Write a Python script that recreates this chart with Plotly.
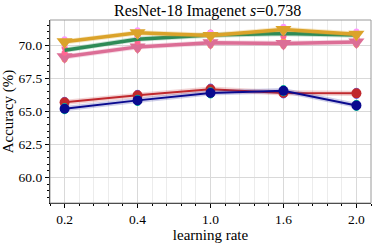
import plotly.graph_objects as go

lr_labels = ["0.2", "0.4", "1.0", "1.6", "2.0"]
gold = [70.25, 70.93, 70.73, 71.19, 70.83]
green = [69.62, 70.45, 70.76, 70.88, 70.76]
pink = [69.12, 69.87, 70.18, 70.13, 70.23]
red = [65.68, 66.21, 66.67, 66.39, 66.36]
blue = [65.20, 65.83, 66.39, 66.56, 65.45]
band = [0.2, 0.2, 0.2, 0.2, 0.2]

x = list(range(len(lr_labels)))
FONT = "Liberation Serif, Times New Roman, serif"

series = [
    (red, "#c0282d", "rgba(192,40,45,0.2)", "circle", 10, 2),
    (blue, "#0a0a8f", "rgba(10,10,143,0.2)", "circle", 10, 2),
    (pink, "#dc6e96", "rgba(220,110,150,0.25)", "triangle-down", 14, 3.5),
    (green, "#2e8b57", "rgba(46,139,87,0.25)", "triangle-down", 0, 3.5),
    (gold, "#dba32a", "rgba(219,163,42,0.25)", "triangle-down", 14, 3.5),
]

fig = go.Figure()
for vals, col, fill, sym, ms, lw in series:
    up = [v + b for v, b in zip(vals, band)]
    lo = [v - b for v, b in zip(vals, band)]
    fig.add_trace(go.Scatter(x=x + x[::-1], y=up + lo[::-1], fill="toself",
                             fillcolor=fill, line=dict(width=0), hoverinfo="skip",
                             showlegend=False))
    fig.add_trace(go.Scatter(x=x, y=vals, mode="lines+markers" if ms else "lines",
                             line=dict(color=col, width=lw),
                             marker=dict(symbol=sym, size=ms, color=col),
                             showlegend=False))

fig.add_shape(type="rect", xref="paper", yref="paper", x0=0, y0=0, x1=1, y1=1,
              line=dict(color="#9a9a9a", width=1), layer="above")

fig.update_layout(
    width=374, height=243,
    margin=dict(l=50, r=3, t=20, b=40),
    paper_bgcolor="white", plot_bgcolor="white",
    font=dict(family=FONT, color="black", size=13),
    title=dict(text="ResNet-18 Imagenet <i>s</i>=0.738", x=0.555, xanchor="center",
               y=0.98, yanchor="top", font=dict(family=FONT, size=16)),
)
fig.update_xaxes(
    range=[-0.2, 4.2], tickmode="array", tickvals=x, ticktext=lr_labels,
    showgrid=True, gridcolor="#d9d9d9", gridwidth=1,
    minor=dict(dtick=0.2, tick0=0, showgrid=True, gridcolor="#ececec",
               ticks="outside", ticklen=2, tickcolor="black"),
    ticks="outside", ticklen=4, tickcolor="black",
    showline=True, linecolor="black", linewidth=1.2, zeroline=False,
    title=dict(text="learning rate", font=dict(family=FONT, size=15), standoff=3),
    tickfont=dict(family=FONT, size=13.5),
)
fig.update_yaxes(
    range=[58.08, 71.9], tickmode="array", tickvals=[60, 62.5, 65, 67.5, 70],
    ticktext=["60.0", "62.5", "65.0", "67.5", "70.0"],
    showgrid=True, gridcolor="#d9d9d9", gridwidth=1,
    minor=dict(dtick=0.5, tick0=0, showgrid=False,
               ticks="outside", ticklen=2, tickcolor="black"),
    ticks="outside", ticklen=4, tickcolor="black",
    showline=True, linecolor="black", linewidth=1.2, zeroline=False,
    title=dict(text="Accuracy (%)", font=dict(family=FONT, size=15), standoff=3),
    tickfont=dict(family=FONT, size=13.5),
)

fig.write_html("out.html", config={"displayModeBar": False},
               post_script="document.body.style.margin='0';")
